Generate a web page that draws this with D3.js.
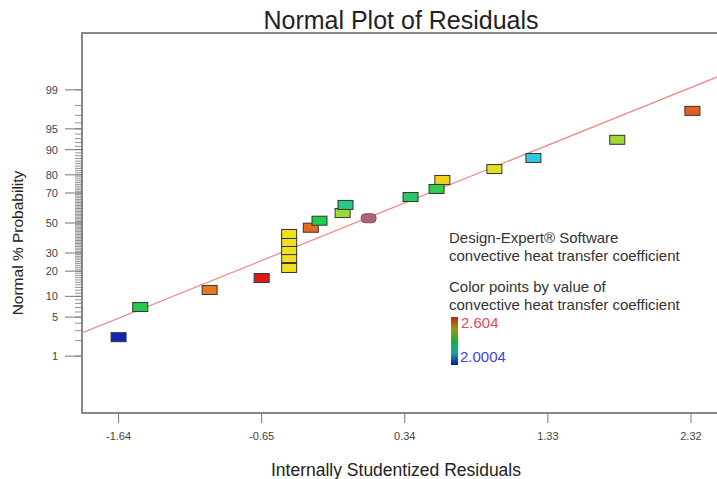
<!DOCTYPE html>
<html>
<head>
<meta charset="utf-8">
<script src="https://cdn.jsdelivr.net/npm/d3@7"></script>
<style>
  body { margin: 0; background: #fff; }
  text { font-family: "Liberation Sans", Arial, sans-serif; }
</style>
</head>
<body>
<div id="chart"></div>
<script>
// residuals (x) and normal % probability (y), sorted by probability
const residuals = [-1.64, -1.49, -1.01, -0.65, -0.46, -0.46, -0.46, -0.46, -0.46, -0.31, -0.25,
    0.09, -0.09, -0.07, 0.38, 0.56, 0.60, 0.96, 1.23, 1.81, 2.33];
const probabilities = [2.3, 7.1, 12.1, 16.8, 21.6, 27.0, 31.8, 37.0, 42.4, 46.7, 51.6,
    53.3, 56.9, 62.4, 67.5, 72.4, 77.4, 82.7, 87.2, 92.7, 97.5];
// convective heat transfer coefficient of each run (estimated from point colour)
const responses = [2.0004, 2.30, 2.53, 2.604, 2.45, 2.45, 2.45, 2.45, 2.45, 2.54, 2.30,
    2.50, 2.39, 2.24, 2.28, 2.31, 2.46, 2.44, 2.16, 2.39, 2.55];
const flaggedRun = 11; // drawn in a different style in the original

// fitted reference line (two end points)
const lineResiduals = [-1.893, 2.59];
const linePercents = [2.73, 99.59];

const xTicks = [-1.64, -0.65, 0.34, 1.33, 2.32];
const yTicks = [1, 5, 10, 20, 30, 50, 70, 80, 90, 95, 99];
const yMinorTicks = d3.range(1, 100);

const responseMin = 2.0004;
const responseMax = 2.604;

// inverse of the standard normal cdf (Acklam)
function probit(p) {
    const a = [-39.69683028665376, 220.9460984245205, -275.9285104469687, 138.3577518672690, -30.66479806614716, 2.506628277459239];
    const b = [-54.47609879822406, 161.5858368580409, -155.6989798598866, 66.80131188771972, -13.28068155288572];
    const c = [-0.007784894002430293, -0.3223964580411365, -2.400758277161838, -2.549732539343734, 4.374664141464968, 2.938163982698783];
    const d = [0.007784695709041462, 0.3224671290700398, 2.445134137142996, 3.754408661907416];
    const pl = 0.02425;
    let q, r;
    if (p < pl) {
        q = Math.sqrt(-2 * Math.log(p));
        return (((((c[0] * q + c[1]) * q + c[2]) * q + c[3]) * q + c[4]) * q + c[5]) /
            ((((d[0] * q + d[1]) * q + d[2]) * q + d[3]) * q + 1);
    }
    if (p > 1 - pl) {
        q = Math.sqrt(-2 * Math.log(1 - p));
        return -(((((c[0] * q + c[1]) * q + c[2]) * q + c[3]) * q + c[4]) * q + c[5]) /
            ((((d[0] * q + d[1]) * q + d[2]) * q + d[3]) * q + 1);
    }
    q = p - 0.5;
    r = q * q;
    return (((((a[0] * r + a[1]) * r + a[2]) * r + a[3]) * r + a[4]) * r + a[5]) * q /
        (((((b[0] * r + b[1]) * r + b[2]) * r + b[3]) * r + b[4]) * r + 1);
}

const svgWidth = 717;
const svgHeight = 479;
const plot = { left: 82, top: 33, right: 730, bottom: 413 };

const svg = d3.select("#chart")
    .append("svg")
    .attr("width", svgWidth)
    .attr("height", svgHeight);

const xScale = d3.scaleLinear()
    .domain([-1.893, 2.59])
    .range([plot.left, plot.right]);

// normal probability scale: percent -> z -> pixels
const zScale = d3.scaleLinear()
    .domain([-3.32, 3.32])
    .range([plot.bottom, plot.top]);
const yScale = pct => zScale(probit(pct / 100));

const colorScale = d3.scaleLinear()
    .domain([responseMin, 2.15, 2.3, 2.45, responseMax])
    .range(["#1224b4", "#2cc8e8", "#22cc4c", "#f0e020", "#e01818"]);

// title
svg.append("text")
    .attr("x", 401)
    .attr("y", 29)
    .attr("text-anchor", "middle")
    .attr("font-size", "25px")
    .attr("fill", "#222")
    .text("Normal Plot of Residuals");

// clip for line
svg.append("clipPath")
    .attr("id", "plotClip")
    .append("rect")
    .attr("x", plot.left)
    .attr("y", plot.top)
    .attr("width", plot.right - plot.left)
    .attr("height", plot.bottom - plot.top);

// frame
svg.append("rect")
    .attr("x", plot.left)
    .attr("y", plot.top)
    .attr("width", plot.right - plot.left)
    .attr("height", plot.bottom - plot.top)
    .attr("fill", "none")
    .attr("stroke", "#888")
    .attr("stroke-width", 2);

// y axis minor + major ticks
const yAxis = svg.append("g");
yAxis.selectAll("line.minor")
    .data(yMinorTicks)
    .enter()
    .append("line")
    .attr("x1", plot.left - 7)
    .attr("x2", plot.left)
    .attr("y1", d => yScale(d))
    .attr("y2", d => yScale(d))
    .attr("stroke", "#777")
    .attr("stroke-width", 0.8);

yAxis.selectAll("line.major")
    .data(yTicks)
    .enter()
    .append("line")
    .attr("x1", plot.left - 17)
    .attr("x2", plot.left)
    .attr("y1", d => yScale(d))
    .attr("y2", d => yScale(d))
    .attr("stroke", "#777")
    .attr("stroke-width", 1);

yAxis.selectAll("text")
    .data(yTicks)
    .enter()
    .append("text")
    .attr("x", plot.left - 24)
    .attr("y", d => yScale(d))
    .attr("dy", "0.35em")
    .attr("text-anchor", "end")
    .attr("font-size", "11px")
    .attr("fill", "#444")
    .text(d => d);

// x axis ticks
const xAxis = svg.append("g");
xAxis.selectAll("line")
    .data(xTicks)
    .enter()
    .append("line")
    .attr("x1", d => xScale(d))
    .attr("x2", d => xScale(d))
    .attr("y1", plot.bottom)
    .attr("y2", plot.bottom + 10)
    .attr("stroke", "#777");

xAxis.selectAll("text")
    .data(xTicks)
    .enter()
    .append("text")
    .attr("x", d => xScale(d))
    .attr("y", plot.bottom + 23)
    .attr("dy", "0.35em")
    .attr("text-anchor", "middle")
    .attr("font-size", "11px")
    .attr("fill", "#444")
    .text(d => d.toFixed(2));

// axis titles
svg.append("text")
    .attr("transform", `translate(18, 243) rotate(-90)`)
    .attr("text-anchor", "middle")
    .attr("dy", "0.35em")
    .attr("font-size", "15.5px")
    .attr("fill", "#222")
    .text("Normal % Probability");

svg.append("text")
    .attr("x", 396)
    .attr("y", 470)
    .attr("dy", "0.35em")
    .attr("text-anchor", "middle")
    .attr("font-size", "17.5px")
    .attr("fill", "#222")
    .text("Internally Studentized Residuals");

// reference line
const lineData = lineResiduals.map((r, i) => ({ r: r, p: linePercents[i] }));
svg.append("path")
    .datum(lineData)
    .attr("clip-path", "url(#plotClip)")
    .attr("fill", "none")
    .attr("stroke", "#ec8a8a")
    .attr("stroke-width", 1.3)
    .attr("d", d3.line().x(d => xScale(d.r)).y(d => yScale(d.p)));

// points
const points = residuals.map((r, i) => ({ r: r, p: probabilities[i], v: responses[i], i: i }));
svg.append("g")
    .selectAll("rect")
    .data(points)
    .enter()
    .append("rect")
    .attr("x", d => xScale(d.r) - 7.5)
    .attr("y", d => yScale(d.p) - 4.5)
    .attr("width", 15)
    .attr("height", 9)
    .attr("rx", d => d.i === flaggedRun ? 4 : 0)
    .attr("fill", d => d.i === flaggedRun ? "#a86676" : colorScale(d.v))
    .attr("stroke", d => d.i === flaggedRun ? "#8a5060" : "#333")
    .attr("stroke-width", 1);

// legend
const legend = svg.append("g").attr("font-size", "15px").attr("fill", "#333");
const legendLines = [
    ["Design-Expert\u00ae Software", 238],
    ["convective heat transfer coefficient", 256],
    ["Color points by value of", 287],
    ["convective heat transfer coefficient", 305]
];
legend.selectAll("text")
    .data(legendLines)
    .enter()
    .append("text")
    .attr("x", 449)
    .attr("y", d => d[1])
    .attr("dy", "0.35em")
    .text(d => d[0]);

const grad = svg.append("defs")
    .append("linearGradient")
    .attr("id", "legendGrad")
    .attr("x1", 0).attr("y1", 1).attr("x2", 0).attr("y2", 0);
colorScale.domain().forEach((v, i) => {
    grad.append("stop")
        .attr("offset", (v - responseMin) / (responseMax - responseMin))
        .attr("stop-color", ["#0a1890", "#1aa0b0", "#18b030", "#90a010", "#c02010"][i]);
});

svg.append("rect")
    .attr("x", 451)
    .attr("y", 317)
    .attr("width", 7)
    .attr("height", 48)
    .attr("fill", "url(#legendGrad)");

svg.append("text")
    .attr("x", 461)
    .attr("y", 323)
    .attr("dy", "0.35em")
    .attr("font-size", "15px")
    .attr("fill", "#e84a5a")
    .text(responseMax);

svg.append("text")
    .attr("x", 460)
    .attr("y", 357)
    .attr("dy", "0.35em")
    .attr("font-size", "15px")
    .attr("fill", "#4040e0")
    .text(responseMin);
</script>
</body>
</html>
